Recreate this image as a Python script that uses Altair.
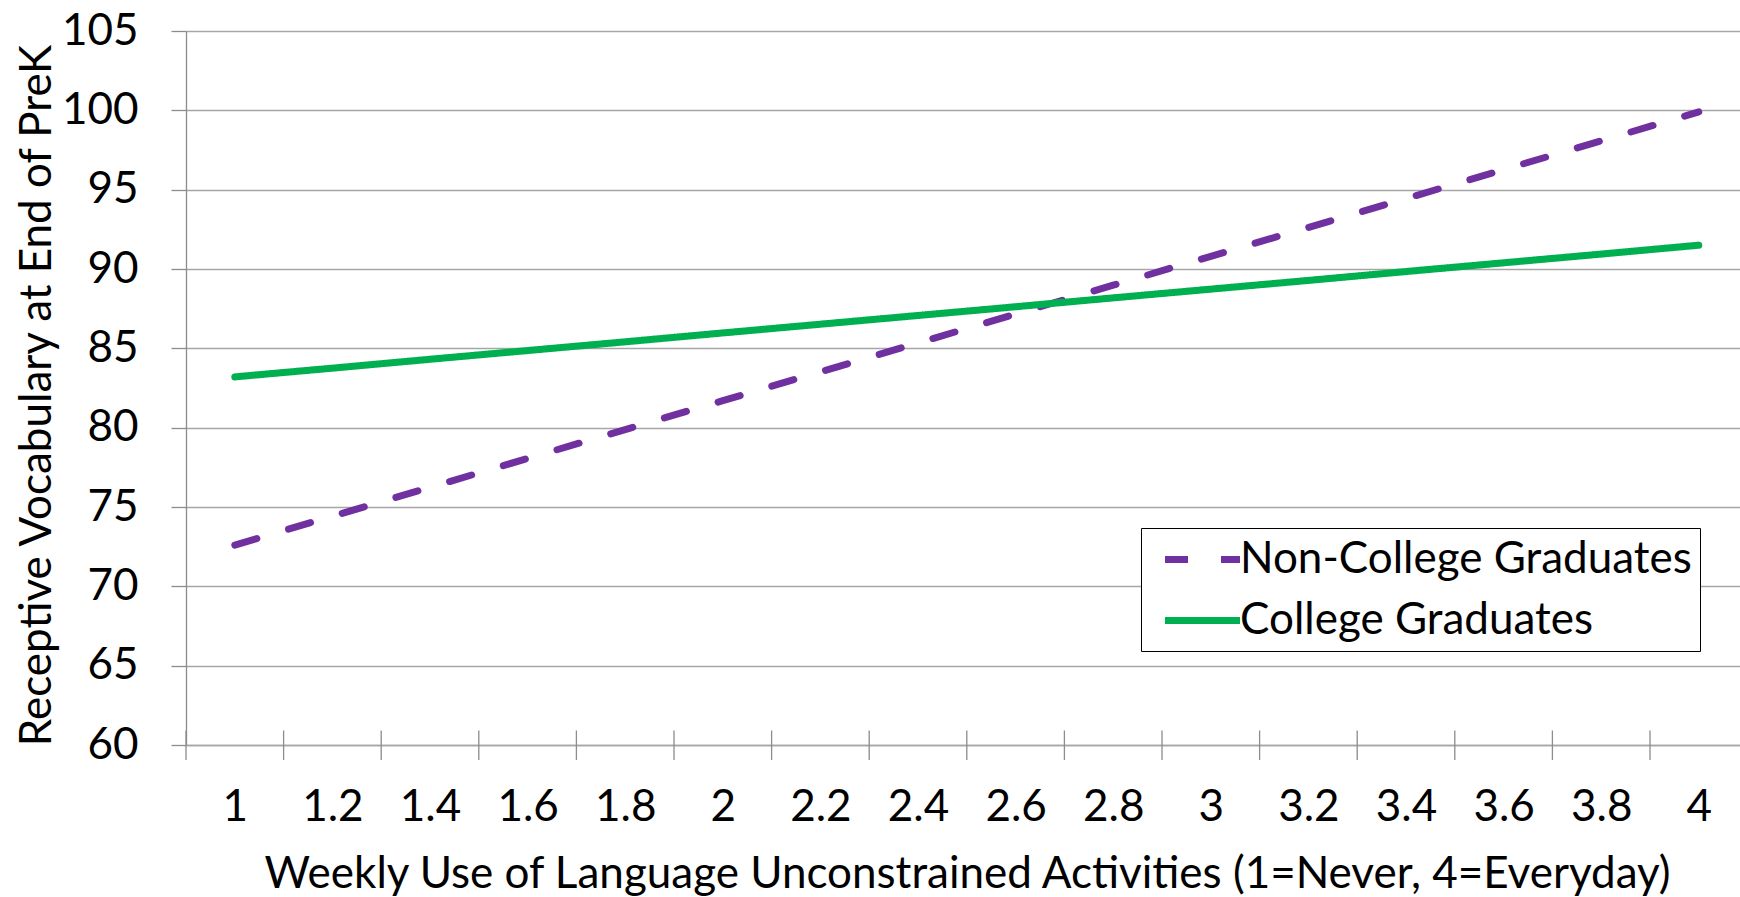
import altair as alt
import pandas as pd

# Weekly use categories (1 = Never, 4 = Everyday)
x_values = [1.0, 1.2, 1.4, 1.6, 1.8, 2.0, 2.2, 2.4, 2.6, 2.8, 3.0, 3.2, 3.4, 3.6, 3.8, 4.0]

# Predicted receptive vocabulary scores at end of PreK
non_college = [72.6, 74.42, 76.24, 78.06, 79.88, 81.7, 83.52, 85.34, 87.16, 88.98,
               90.8, 92.62, 94.44, 96.26, 98.08, 99.9]
college = [83.2, 83.75, 84.31, 84.86, 85.41, 85.97, 86.52, 87.07, 87.62, 88.18,
           88.73, 89.28, 89.84, 90.39, 90.94, 91.5]

series_names = ["Non-College Graduates", "College Graduates"]
series_colors = ["#7030A0", "#00B050"]
series_dashes = [[23, 33], [1, 0]]

y_ticks = [60, 65, 70, 75, 80, 85, 90, 95, 100, 105]

FONT = "Lato"
FS = 44
GRID = "#A6A6A6"
AXIS = "#8C8C8C"

W, H = 1554, 714
STEP = 0.2

rows = []
for name, vals in zip(series_names, [non_college, college]):
    for x, v in zip(x_values, vals):
        rows.append({"x": x, "score": v, "group": name})
df = pd.DataFrame(rows)

# tick marks sit on the boundaries between categories
bounds = pd.DataFrame({"b": [round(x - STEP / 2, 2) for x in x_values]})

x_scale = alt.Scale(domain=[0.9, 0.9 + W / (97.6 / STEP)], nice=False, zero=False)
y_scale = alt.Scale(domain=[60, 105], nice=False, zero=False)

legend = alt.Legend(
    orient="none",
    legendX=955,
    legendY=497,
    title=None,
    fillColor="white",
    strokeColor="black",
    padding=8,
    symbolOffset=30,
    symbolType="M-1.875,0H1.875",
    symbolSize=1600,
    symbolStrokeWidth=7,
    labelFont=FONT,
    labelFontSize=FS,
    labelColor="black",
    labelOffset=14,
    labelLimit=1000,
    rowPadding=15,
)

lines = alt.Chart(df).mark_line(strokeWidth=7, strokeCap="round", strokeJoin="round").encode(
    x=alt.X(
        "x:Q",
        scale=x_scale,
        axis=alt.Axis(
            values=x_values,
            format=".1~f",
            ticks=False,
            grid=False,
            domain=True,
            domainColor=GRID,
            domainWidth=1.3,
            labelFont=FONT,
            labelFontSize=FS,
            labelColor="black",
            labelPadding=40,
            labelFlush=False,
            labelOverlap=False,
            title="Weekly Use of Language Unconstrained Activities (1=Never, 4=Everyday)",
            titleFont=FONT,
            titleFontSize=FS,
            titleFontWeight="normal",
            titleColor="black",
            titleX=781,
            titleY=142,
            titleBaseline="alphabetic",
        ),
    ),
    y=alt.Y(
        "score:Q",
        scale=y_scale,
        axis=alt.Axis(
            values=y_ticks,
            grid=True,
            gridColor=GRID,
            gridWidth=1.3,
            domainColor=AXIS,
            domainWidth=1.3,
            tickColor=AXIS,
            tickWidth=1.3,
            tickSize=15,
            labelFont=FONT,
            labelFontSize=FS,
            labelColor="black",
            labelPadding=33,
            title="Receptive Vocabulary at End of PreK",
            titleFont=FONT,
            titleFontSize=FS,
            titleFontWeight="normal",
            titleColor="black",
            titleX=-136,
            titleY=364,
            titleBaseline="alphabetic",
        ),
    ),
    color=alt.Color(
        "group:N",
        scale=alt.Scale(domain=series_names, range=series_colors),
        legend=legend,
    ),
    strokeDash=alt.StrokeDash(
        "group:N",
        scale=alt.Scale(domain=series_names, range=series_dashes),
        legend=legend,
    ),
)

ticks = alt.Chart(bounds).mark_rule(color=AXIS, strokeWidth=1.3).encode(
    x=alt.X("b:Q", scale=x_scale),
    y=alt.value(H - 14.5),
    y2=alt.value(H + 15),
)

chart = (
    alt.layer(ticks, lines)
    .properties(
        width=W,
        height=H,
        autosize=alt.AutoSizeParams(type="none"),
        padding={"left": 186, "top": 31, "right": 0, "bottom": 152},
        background="white",
    )
    .configure_view(stroke=None)
)

chart.save("out.html", embed_options={"renderer": "svg", "actions": False})
